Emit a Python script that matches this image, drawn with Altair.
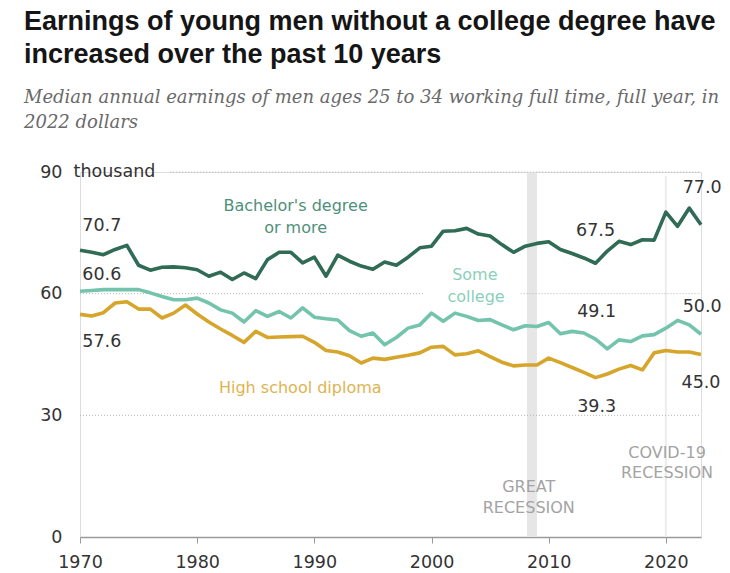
import altair as alt
import pandas as pd

years = list(range(1970, 2024))

bachelor = [70.7, 70.2, 69.6, 70.9, 71.9, 67.0, 65.8, 66.5, 66.6, 66.4,
            65.9, 64.3, 65.3, 63.5, 65.1, 63.7, 68.4, 70.2, 70.2, 67.6,
            69.0, 64.3, 69.5, 68.0, 66.8, 66.0, 67.8, 67.0, 69.0, 71.3,
            71.7, 75.4, 75.5, 76.1, 74.7, 74.2, 72.1, 70.2, 71.7, 72.4,
            72.8, 70.9, 69.9, 68.8, 67.5, 70.5, 72.9, 72.1, 73.3, 73.2,
            80.1, 76.6, 81.1, 77.0]

some_college = [60.6, 60.8, 61.0, 61.0, 61.0, 61.0, 60.2, 59.3, 58.5, 58.5,
                58.9, 57.7, 56.0, 55.2, 53.0, 55.8, 54.4, 55.6, 54.0, 56.5,
                54.2, 53.8, 53.5, 50.9, 49.5, 50.3, 47.4, 49.2, 51.5, 52.3,
                55.2, 53.2, 55.2, 54.4, 53.4, 53.6, 52.3, 51.1, 52.1, 51.9,
                52.9, 50.1, 50.7, 50.3, 48.8, 46.4, 48.6, 48.2, 49.6, 49.9,
                51.5, 53.4, 52.3, 50.0]

high_school = [54.9, 54.5, 55.3, 57.7, 58.0, 56.2, 56.2, 54.0, 55.2, 57.2,
               55.0, 53.0, 51.3, 49.7, 48.0, 50.7, 49.2, 49.3, 49.4, 49.5,
               48.0, 46.0, 45.6, 44.7, 42.9, 44.1, 43.8, 44.3, 44.8, 45.4,
               46.8, 47.0, 44.9, 45.2, 45.9, 44.5, 43.1, 42.2, 42.4, 42.4,
               44.1, 43.0, 41.8, 40.6, 39.3, 40.2, 41.4, 42.3, 41.2, 45.4,
               46.0, 45.6, 45.6, 45.0]

series_names = ["Bachelor's degree or more", "Some college", "High school diploma"]
series_colors = ["#2f6b55", "#74c3ac", "#d6a52b"]

x_ticks = [1970, 1980, 1990, 2000, 2010, 2020]
y_ticks = [0, 30, 60, 90]

# value labels: text, year, value
value_labels = ["70.7", "60.6", "57.6", "67.5", "49.1", "39.3", "77.0", "50.0", "45.0"]
value_label_years = [1970.2, 1970.2, 1970.2, 2014.0, 2014.1, 2014.1, 2023.1, 2023.1, 2023.0]
value_label_vals = [76.6, 64.5, 48.2, 75.5, 55.5, 32.1, 86.1, 56.7, 38.0]
value_label_align = ["left", "left", "left", "center", "center", "center", "center", "center", "center"]

# series labels
series_label_text = ["Bachelor's degree", "or more", "Some", "college", "High school diploma"]
series_label_years = [1988.4, 1988.4, 2003.7, 2003.8, 1988.8]
series_label_vals = [81.5, 76.2, 64.6, 59.3, 36.7]
series_label_colors = ["#4f907b", "#4f907b", "#8bcfbb", "#8bcfbb", "#ddb450"]

# recession annotations
rec_text = ["GREAT", "RECESSION", "COVID-19", "RECESSION"]
rec_years = [2008.3, 2008.3, 2020.1, 2020.1]
rec_vals = [12.3, 7.2, 20.7, 15.8]

great_recession = [2008.15, 2009.0]
covid_year = 2020.0

# gridline segments: value, start year, end year
grid_vals = [90, 60, 60, 30]
grid_start = [1977.7, 1970, 2007.6, 1970]
grid_end = [2023, 1999.4, 2023, 2023]

df = pd.DataFrame({
    "year": years * 3,
    "value": bachelor + some_college + high_school,
    "series": sum([[s] * len(years) for s in series_names], []),
})

x_scale = alt.Scale(domain=[1970, 2023], nice=False, zero=False)
y_scale = alt.Scale(domain=[0, 90], nice=False)

sans = "DejaVu Sans"

band = alt.Chart(pd.DataFrame({"x": [great_recession[0]], "x2": [great_recession[1]],
                               "y": [0], "y2": [90]})).mark_rect(color="#e6e6e6").encode(
    x=alt.X("x:Q", scale=x_scale), x2="x2:Q",
    y=alt.Y("y:Q", scale=y_scale), y2="y2:Q")

covid = alt.Chart(pd.DataFrame({"x": [covid_year], "y": [0], "y2": [89]})).mark_rule(
    color="#ececec", strokeWidth=2).encode(
    x=alt.X("x:Q", scale=x_scale), y=alt.Y("y:Q", scale=y_scale), y2="y2:Q")

grid = alt.Chart(pd.DataFrame({"v": grid_vals, "s": grid_start, "e": grid_end})).mark_rule(
    color="#b5b5b5", strokeWidth=1, strokeDash=[1, 2]).encode(
    x=alt.X("s:Q", scale=x_scale), x2="e:Q", y=alt.Y("v:Q", scale=y_scale))

lines = alt.Chart(df).mark_line(strokeWidth=3.6, strokeJoin="round").encode(
    x=alt.X("year:Q", scale=x_scale, title=None,
            axis=alt.Axis(values=x_ticks, format="d", grid=False, labelFontSize=17.5,
                          labelColor="#333", labelFont=sans, domainColor="#9a9a9a",
                          tickColor="#9a9a9a", tickSize=6, labelPadding=10, domainWidth=1.5,
                          labelFlush=False)),
    y=alt.Y("value:Q", scale=y_scale, title=None,
            axis=alt.Axis(values=y_ticks, grid=False, domain=False, ticks=False,
                          labelFontSize=17.5, labelColor="#333", labelFont=sans,
                          labelPadding=18, labelFlush=False)),
    color=alt.Color("series:N", scale=alt.Scale(domain=series_names, range=series_colors),
                    legend=None),
    detail="series:N",
)

thousand = alt.Chart(pd.DataFrame({"t": ["thousand"], "x": [1969.45], "y": [90]})).mark_text(
    align="left", baseline="middle", fontSize=17.5, font=sans, color="#333").encode(
    x=alt.X("x:Q", scale=x_scale), y=alt.Y("y:Q", scale=y_scale), text="t:N")

vl_df = pd.DataFrame({"t": value_labels, "x": value_label_years, "y": value_label_vals,
                      "a": value_label_align})
vl_left = alt.Chart(vl_df[vl_df.a == "left"]).mark_text(
    align="left", baseline="middle", fontSize=17.5, font=sans, color="#333").encode(
    x=alt.X("x:Q", scale=x_scale), y=alt.Y("y:Q", scale=y_scale), text="t:N")
vl_center = alt.Chart(vl_df[vl_df.a == "center"]).mark_text(
    align="center", baseline="middle", fontSize=17.5, font=sans, color="#333").encode(
    x=alt.X("x:Q", scale=x_scale), y=alt.Y("y:Q", scale=y_scale), text="t:N")

sl = alt.Chart(pd.DataFrame({"t": series_label_text, "x": series_label_years,
                             "y": series_label_vals, "c": series_label_colors})).mark_text(
    align="center", baseline="middle", fontSize=16, font=sans).encode(
    x=alt.X("x:Q", scale=x_scale), y=alt.Y("y:Q", scale=y_scale), text="t:N",
    color=alt.Color("c:N", scale=None))

rec = alt.Chart(pd.DataFrame({"t": rec_text, "x": rec_years, "y": rec_vals})).mark_text(
    align="center", baseline="middle", fontSize=16, font=sans, color="#a3a3a3").encode(
    x=alt.X("x:Q", scale=x_scale), y=alt.Y("y:Q", scale=y_scale), text="t:N")

chart = alt.layer(band, covid, grid, lines, thousand, vl_left, vl_center, sl, rec).properties(
    width=621, height=365,
    padding={"left": 80, "top": 172, "right": 29, "bottom": 36},
    autosize=alt.AutoSizeParams(type="none"),
    title=alt.TitleParams(
        text=["Earnings of young men without a college degree have",
              "increased over the past 10 years"],
        subtitle=["Median annual earnings of men ages 25 to 34 working full time, full year, in",
                  "2022 dollars"],
        anchor="start", frame="group", dx=-56, offset=30,
        font="Liberation Sans", fontSize=27, fontWeight="bold", color="#151515", lineHeight=33,
        subtitleFont="DejaVu Serif", subtitleFontStyle="italic", subtitleFontSize=18,
        subtitleColor="#6a6a6a", subtitleLineHeight=25, subtitlePadding=20,
    ),
).configure_view(stroke=None).configure(background="white")

chart.save("out.html", embed_options={"renderer": "svg", "actions": False})
